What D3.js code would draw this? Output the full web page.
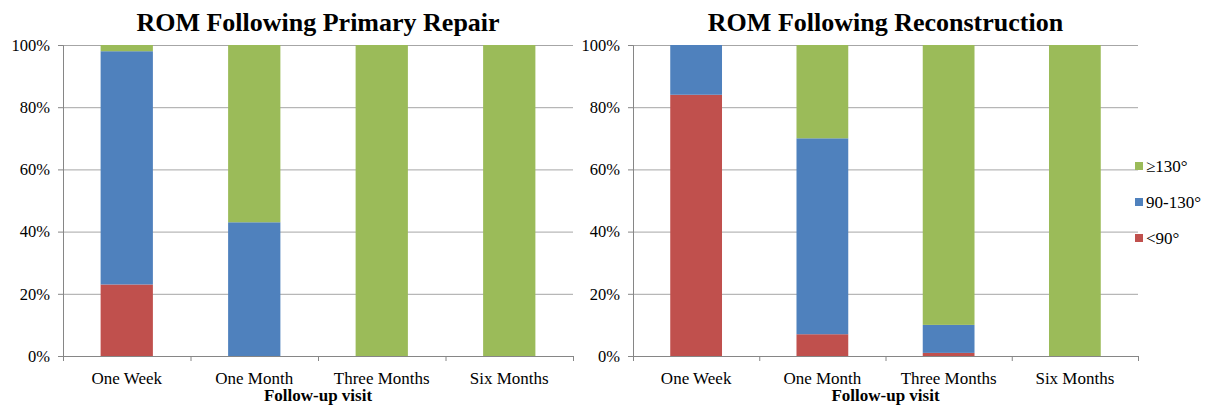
<!DOCTYPE html>
<meta charset="utf-8">
<style>
body { margin: 0; background: #fff; }
</style>
<svg width="1208" height="408"></svg>
<script src="https://cdn.jsdelivr.net/npm/d3@7"></script>
<script>
// follow-up visits and ROM ranges
const visits = ["One Week", "One Month", "Three Months", "Six Months"]
const ranges = ["<90°", "90-130°", "≥130°"]
const rangeColors = ["#c0504d", "#4f81bd", "#9bbb59"]
const yTicks = [0, 20, 40, 60, 80, 100]

// percent of patients in each range
const primaryLow = [23, 0, 0, 0]
const primaryMid = [75, 43, 0, 0]
const primaryHigh = [2, 57, 100, 100]

const reconLow = [84, 7, 1, 0]
const reconMid = [16, 63, 9, 0]
const reconHigh = [0, 30, 90, 100]

const serif = "'Liberation Serif', 'Times New Roman', Times, serif"

const svg = d3.select("svg")
    .style("font-family", serif)

const color = d3.scaleOrdinal().domain(ranges).range(rangeColors)

function rows(low, mid, high) {
  return visits.map((v, i) => ({visit: v, [ranges[0]]: low[i], [ranges[1]]: mid[i], [ranges[2]]: high[i]}))
}

function labelStyle(s, size) {
  s.attr("font-family", serif)
    .selectAll("text")
      .style("font-family", serif)
      .style("font-size", size + "px")
      .attr("fill", "#000")
}

function drawPanel(title, data, left, right) {
  const top = 45, bottom = 356

  const x = d3.scaleBand()
      .domain(visits)
      .range([left, right])
      .paddingInner(0.59)
      .paddingOuter(0.295)

  const y = d3.scaleLinear()
      .domain([0, 100])
      .range([bottom, top])

  const g = svg.append("g")

  // gridlines
  g.append("g")
      .attr("transform", `translate(${left},0)`)
      .call(d3.axisLeft(y).tickValues(yTicks).tickSize(-(right - left)).tickFormat(""))
      .call(s => s.select(".domain").remove())
      .selectAll("line").attr("stroke", "#a6a6a6")

  // stacked bars
  const series = d3.stack().keys(ranges)(data)
  g.append("g").selectAll("g")
    .data(series)
    .join("g")
      .attr("fill", d => color(d.key))
    .selectAll("rect")
    .data(d => d)
    .join("rect")
      .attr("x", d => x(d.data.visit))
      .attr("y", d => y(d[1]))
      .attr("width", x.bandwidth())
      .attr("height", d => y(d[0]) - y(d[1]))

  // y axis
  g.append("g")
      .attr("transform", `translate(${left},0)`)
      .call(d3.axisLeft(y).tickValues(yTicks).tickSize(5).tickPadding(8).tickFormat(d => d + "%"))
      .call(s => s.selectAll("line, path").attr("stroke", "#868686"))
      .call(labelStyle, 16.5)

  // x axis: boundary ticks plus centred labels
  const slots = d3.scaleLinear().domain([0, visits.length]).range([left, right])
  g.append("g")
      .attr("transform", `translate(0,${bottom})`)
      .call(d3.axisBottom(slots).tickValues(d3.range(visits.length + 1)).tickSize(5).tickSizeOuter(0).tickFormat(""))
      .call(s => s.selectAll("line, path").attr("stroke", "#868686"))

  g.append("g")
      .attr("transform", `translate(0,${bottom})`)
      .call(d3.axisBottom(x).tickSize(0).tickPadding(16))
      .call(s => s.select(".domain").remove())
      .call(labelStyle, 17)

  g.append("text")
      .attr("x", (left + right) / 2)
      .attr("y", 31)
      .attr("text-anchor", "middle")
      .style("font-family", serif)
      .style("font-size", "26px")
      .style("font-weight", "bold")
      .text(title)

  g.append("text")
      .attr("x", (left + right) / 2)
      .attr("y", 401)
      .attr("text-anchor", "middle")
      .style("font-family", serif)
      .style("font-size", "17px")
      .style("font-weight", "bold")
      .text("Follow-up visit")
}

drawPanel("ROM Following Primary Repair", rows(primaryLow, primaryMid, primaryHigh), 63, 573)
drawPanel("ROM Following Reconstruction", rows(reconLow, reconMid, reconHigh), 633, 1138)

// legend, highest range on top
const legend = svg.append("g")
  .selectAll("g")
  .data(ranges.slice().reverse())
  .join("g")
    .attr("transform", (d, i) => `translate(1135,${162 + i * 36})`)

legend.append("rect")
    .attr("width", 8)
    .attr("height", 8)
    .attr("fill", d => color(d))

legend.append("text")
    .attr("x", 11)
    .attr("y", 9.5)
    .style("font-family", serif)
    .style("font-size", "17px")
    .text(d => d)
</script>
